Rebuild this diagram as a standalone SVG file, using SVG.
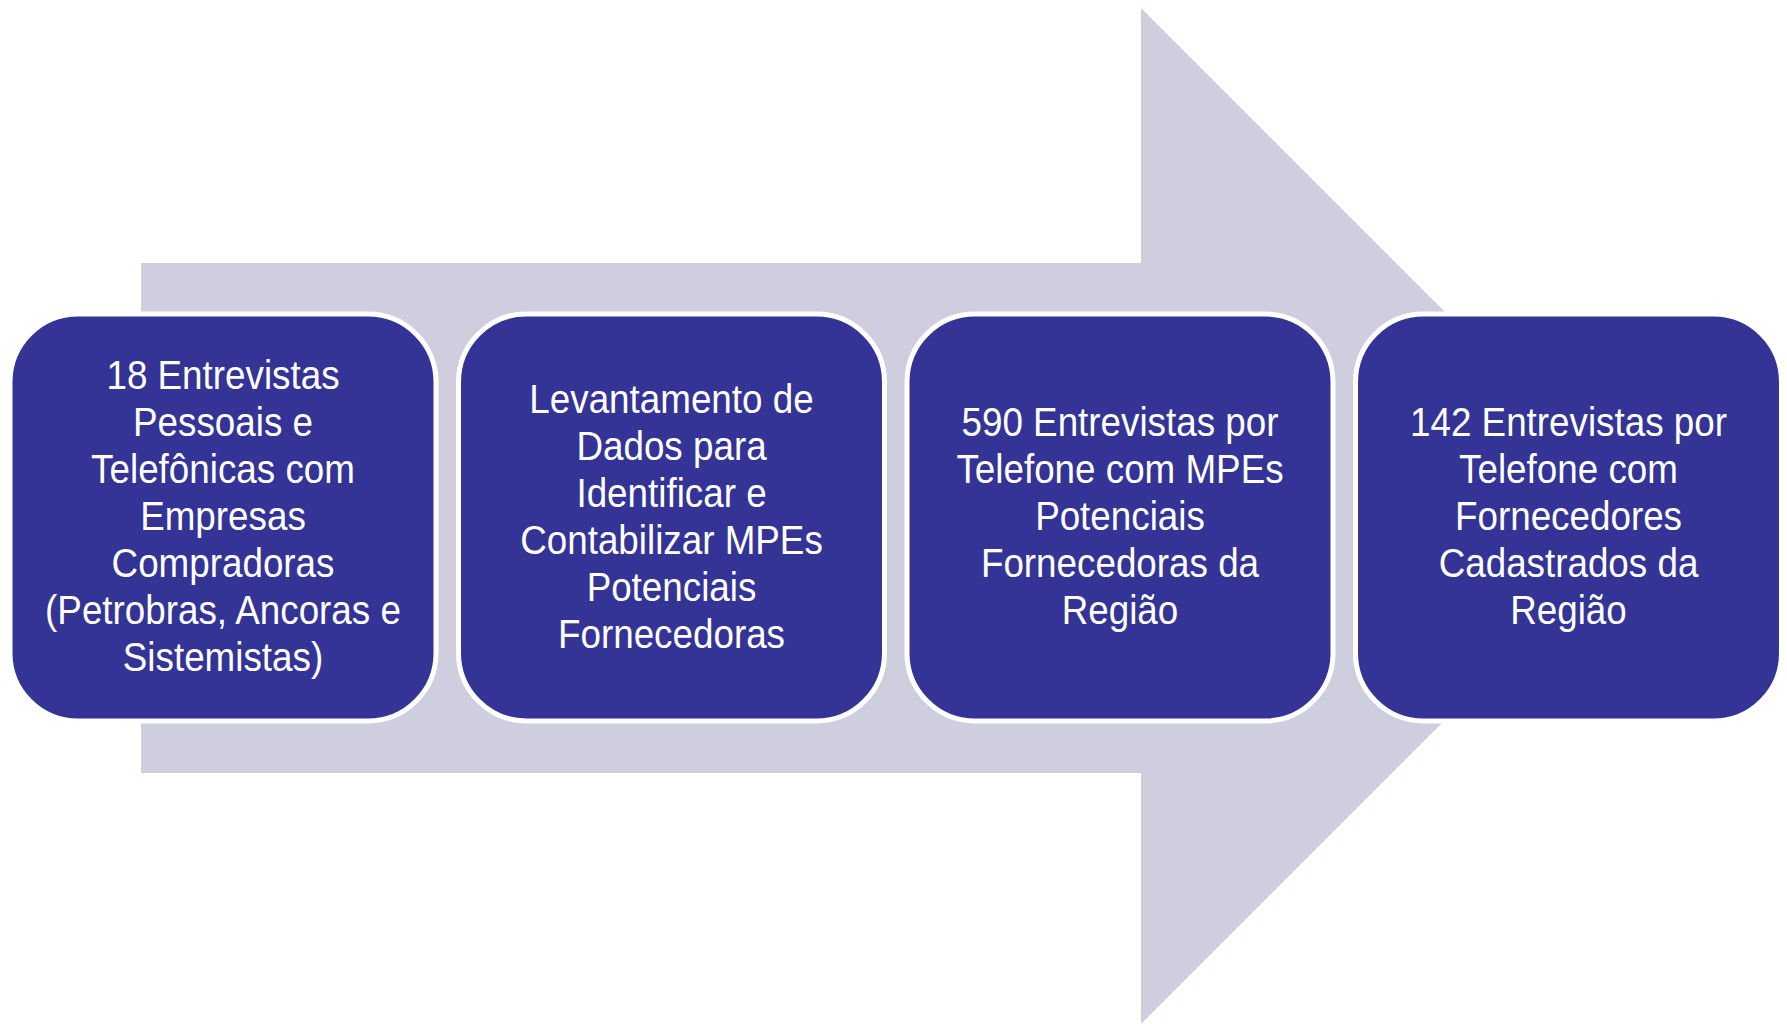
<svg xmlns="http://www.w3.org/2000/svg" width="1787" height="1024" viewBox="0 0 1787 1024">
<style>
.box{fill:#343497;stroke:#ffffff;stroke-width:5}
.lbl{font-family:"Liberation Sans",Arial,sans-serif;font-size:40px;fill:#ffffff;text-anchor:middle}
</style>
<rect width="1787" height="1024" fill="#ffffff"/>
<g id="arrow">
<polygon points="141,263 1141,263 1141,8 1649,516 1141,1024 1141,773 141,773" fill="#CFCEDF"/>
</g>
<g id="connectors"></g>
<g id="node1">
<rect class="box" x="10" y="314" width="426" height="407" rx="68" ry="68"/>
<g transform="translate(223,0) scale(0.92,1)">
<text class="lbl" x="0" y="389.5">18 Entrevistas</text>
<text class="lbl" x="0" y="436.5">Pessoais e</text>
<text class="lbl" x="0" y="483.5">Telefônicas com</text>
<text class="lbl" x="0" y="530.5">Empresas</text>
<text class="lbl" x="0" y="577.5">Compradoras</text>
<text class="lbl" x="0" y="624.5">(Petrobras, Ancoras e</text>
<text class="lbl" x="0" y="671.5">Sistemistas)</text>
</g>
</g>
<g id="node2">
<rect class="box" x="458.5" y="314" width="426" height="407" rx="68" ry="68"/>
<g transform="translate(671.5,0) scale(0.92,1)">
<text class="lbl" x="0" y="413">Levantamento de</text>
<text class="lbl" x="0" y="460">Dados para</text>
<text class="lbl" x="0" y="507">Identificar e</text>
<text class="lbl" x="0" y="554">Contabilizar MPEs</text>
<text class="lbl" x="0" y="601">Potenciais</text>
<text class="lbl" x="0" y="648">Fornecedoras</text>
</g>
</g>
<g id="node3">
<rect class="box" x="907" y="314" width="426" height="407" rx="68" ry="68"/>
<g transform="translate(1120,0) scale(0.92,1)">
<text class="lbl" x="0" y="436.5">590 Entrevistas por</text>
<text class="lbl" x="0" y="483.5">Telefone com MPEs</text>
<text class="lbl" x="0" y="530.5">Potenciais</text>
<text class="lbl" x="0" y="577.5">Fornecedoras da</text>
<text class="lbl" x="0" y="624.5">Região</text>
</g>
</g>
<g id="node4">
<rect class="box" x="1355.5" y="314" width="426" height="407" rx="68" ry="68"/>
<g transform="translate(1568.5,0) scale(0.92,1)">
<text class="lbl" x="0" y="436.5">142 Entrevistas por</text>
<text class="lbl" x="0" y="483.5">Telefone com</text>
<text class="lbl" x="0" y="530.5">Fornecedores</text>
<text class="lbl" x="0" y="577.5">Cadastrados da</text>
<text class="lbl" x="0" y="624.5">Região</text>
</g>
</g>
</svg>
